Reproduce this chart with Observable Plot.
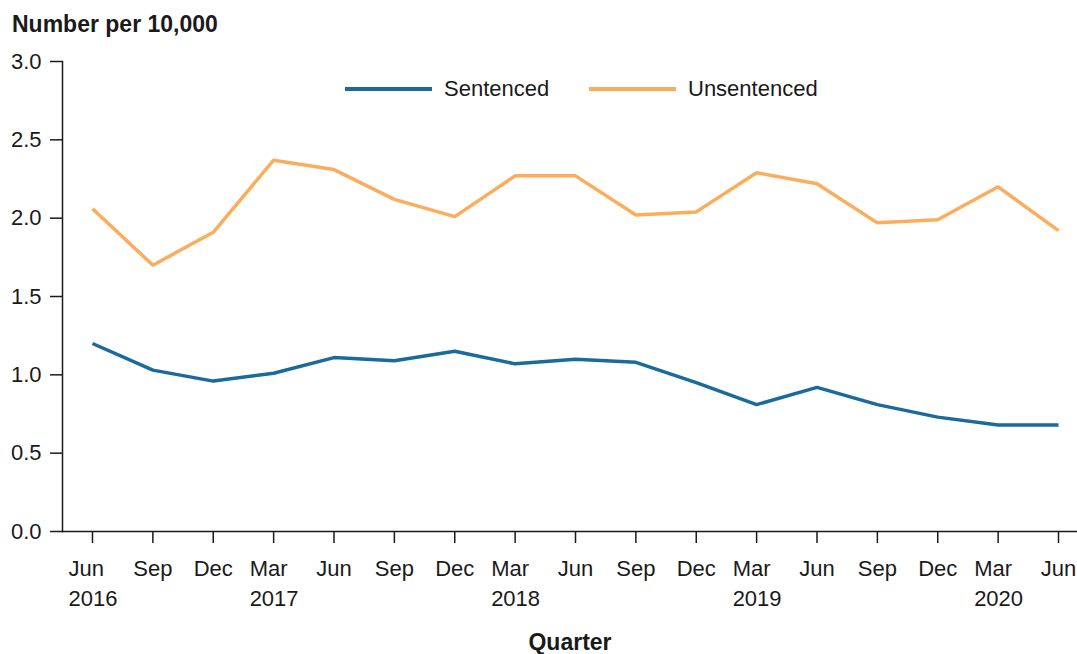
<!DOCTYPE html>
<html>
<head>
<meta charset="utf-8">
<script src="https://cdn.jsdelivr.net/npm/d3@7"></script>
<script src="https://cdn.jsdelivr.net/npm/@observablehq/plot@0.6"></script>
<style>
  html, body { margin: 0; padding: 0; background: #fff; }
  body { width: 1077px; height: 654px; overflow: hidden; font-family: "Liberation Sans", Arial, sans-serif; color: #1a1a1a; }
  #wrap { position: relative; width: 1077px; height: 654px; }
  #title { position: absolute; left: 12px; top: 13px; font-size: 23px; line-height: 23px; font-weight: bold; white-space: nowrap; }
  #chart { position: absolute; left: 0; top: 45px; }
  .legend-item { position: absolute; display: flex; align-items: center; font-size: 22px; white-space: nowrap; }
  .legend-item .sw { width: 87px; height: 4px; margin-right: 12px; }
</style>
</head>
<body>
<div id="wrap">
  <div id="title">Number per 10,000</div>
  <div id="chart"></div>
</div>
<script>
// ---- data ----
const quarters = ["Jun 2016","Sep 2016","Dec 2016","Mar 2017","Jun 2017","Sep 2017","Dec 2017","Mar 2018","Jun 2018","Sep 2018","Dec 2018","Mar 2019","Jun 2019","Sep 2019","Dec 2019","Mar 2020","Jun 2020"];
const monthLabels = ["Jun","Sep","Dec","Mar","Jun","Sep","Dec","Mar","Jun","Sep","Dec","Mar","Jun","Sep","Dec","Mar","Jun"];
const yearLabels = ["2016","","","2017","","","","2018","","","","2019","","","","2020",""];
const sentenced = [1.20,1.03,0.96,1.01,1.11,1.09,1.15,1.07,1.10,1.08,0.95,0.81,0.92,0.81,0.73,0.68,0.68];
const unsentenced = [2.06,1.70,1.91,2.37,2.31,2.12,2.01,2.27,2.27,2.02,2.04,2.29,2.22,1.97,1.99,2.20,1.92];
const seriesNames = ["Sentenced","Unsentenced"];
const seriesColors = ["#1a6a9c","#fbad5c"];
const yTicks = [0,0.5,1.0,1.5,2.0,2.5,3.0];
const yTitle = "Number per 10,000";
const xTitle = "Quarter";

const rows = [];
quarters.forEach((q, i) => {
  rows.push({q, series: seriesNames[0], value: sentenced[i]});
  rows.push({q, series: seriesNames[1], value: unsentenced[i]});
});
const labels = quarters.map((q, i) => ({q, month: monthLabels[i], year: yearLabels[i]}));
const withYear = labels.filter(d => d.year);
const noYear = labels.filter(d => !d.year);

const FS = 22;
const chart = Plot.plot({
  width: 1077,
  height: 609,
  marginLeft: 62,
  marginRight: 0,
  marginTop: 16,
  marginBottom: 123,
  style: {fontFamily: '"Liberation Sans", Arial, sans-serif', fontSize: FS + "px", color: "#1a1a1a", background: "#fff"},
  x: {type: "point", domain: quarters, range: [92, 1058], padding: 0, round: false},
  y: {type: "linear", domain: [0, 3], range: [486, 16]},
  color: {domain: seriesNames, range: seriesColors},
  marks: [
    Plot.frame({anchor: "left", stroke: "#1a1a1a", strokeWidth: 1.5}),
    Plot.frame({anchor: "bottom", stroke: "#1a1a1a", strokeWidth: 1.5}),
    Plot.axisY({ticks: yTicks, tickFormat: d3.format(".1f"), tickSize: 12, tickPadding: 9, fontSize: FS, label: null, stroke: "#1a1a1a", strokeWidth: 1.5}),
    Plot.axisX({tickSize: 12, tickFormat: () => "", label: null, stroke: "#1a1a1a", strokeWidth: 1.5}),
    Plot.text(noYear, {x: "q", text: "month", frameAnchor: "bottom", dy: 37, lineAnchor: "middle", textAnchor: "middle", fontSize: FS, fill: "#1a1a1a"}),
    Plot.text(withYear, {x: "q", text: "month", frameAnchor: "bottom", dy: 37, dx: -24, lineAnchor: "middle", textAnchor: "start", fontSize: FS, fill: "#1a1a1a"}),
    Plot.text(withYear, {x: "q", text: "year", frameAnchor: "bottom", dy: 67, dx: -24, lineAnchor: "middle", textAnchor: "start", fontSize: FS, fill: "#1a1a1a"}),
    Plot.text([xTitle], {frameAnchor: "bottom", dy: 111, lineAnchor: "middle", fontWeight: "bold", fontSize: 23, fill: "#1a1a1a"}),
    Plot.line(rows, {x: "q", y: "value", stroke: "series", z: "series", strokeWidth: 3.5, strokeLinejoin: "miter", strokeLinecap: "butt"})
  ]
});
document.getElementById("chart").appendChild(chart);

// legend (HTML overlay)
const legendPos = [{left: 345}, {left: 589}];
seriesNames.forEach((name, i) => {
  const item = document.createElement("div");
  item.className = "legend-item";
  item.style.left = legendPos[i].left + "px";
  item.style.top = "76px";
  item.style.height = "26px";
  const sw = document.createElement("span");
  sw.className = "sw";
  sw.style.background = seriesColors[i];
  item.appendChild(sw);
  item.appendChild(document.createTextNode(name));
  document.getElementById("wrap").appendChild(item);
});
</script>
</body>
</html>
